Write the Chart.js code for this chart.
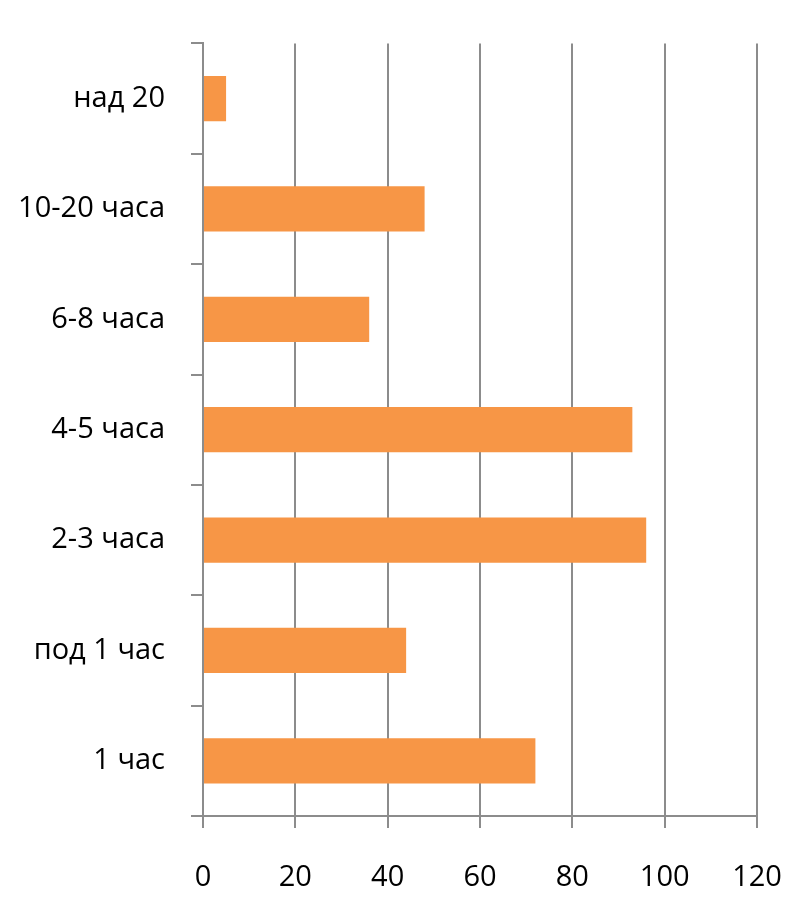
<!DOCTYPE html>
<html>
<head>
<meta charset="utf-8">
<script src="https://cdn.jsdelivr.net/npm/chart.js@4/dist/chart.umd.min.js"></script>
<style>
  html, body { margin: 0; padding: 0; background: #fff; }
  #wrap { width: 803px; height: 902px; }
</style>
</head>
<body>
<div id="wrap"><canvas id="hours"></canvas></div>
<script>
// categories top to bottom, values per category
const categories = ['над 20', '10-20 часа', '6-8 часа', '4-5 часа', '2-3 часа', 'под 1 час', '1 час'];
const counts = [5, 48, 36, 93, 96, 44, 72];
const xTicks = [0, 20, 40, 60, 80, 100, 120];

const axisGrey = '#8c8c8c';
const labelFont = { family: '"Open Sans", "Liberation Sans", sans-serif', size: 29 };

const ctx = document.getElementById('hours');
new Chart(ctx, {
  type: 'bar',
  data: {
    labels: categories,
    datasets: [{
      data: counts,
      backgroundColor: '#f79646',
      borderWidth: 0,
      categoryPercentage: 0.41,
      barPercentage: 1,
    }],
  },
  options: {
    indexAxis: 'y',
    responsive: true,
    maintainAspectRatio: false,
    animation: false,
    layout: { padding: { top: 42, right: 46, bottom: 0, left: 0 } },
    plugins: {
      legend: { display: false },
      tooltip: { enabled: false },
    },
    scales: {
      x: {
        min: 0,
        max: 120,
        afterBuildTicks: (scale) => { scale.ticks = xTicks.map((v) => ({ value: v })); },
        afterFit: (scale) => {
          scale.height = 86;
          scale.paddingLeft = 0;
          scale.paddingRight = 0;
        },
        grid: {
          color: axisGrey,
          lineWidth: 2,
          tickLength: 12,
          drawTicks: true,
        },
        border: { color: axisGrey, width: 2 },
        ticks: {
          color: '#000',
          font: labelFont,
          padding: 32,
        },
      },
      y: {
        afterFit: (scale) => { scale.width = 203; },
        grid: {
          drawOnChartArea: false,
          drawTicks: true,
          tickLength: 12,
          color: axisGrey,
          lineWidth: 2,
          offset: true,
        },
        border: { color: axisGrey, width: 2 },
        ticks: {
          color: '#000',
          font: labelFont,
          padding: 26,
        },
      },
    },
  },
});
</script>
</body>
</html>
